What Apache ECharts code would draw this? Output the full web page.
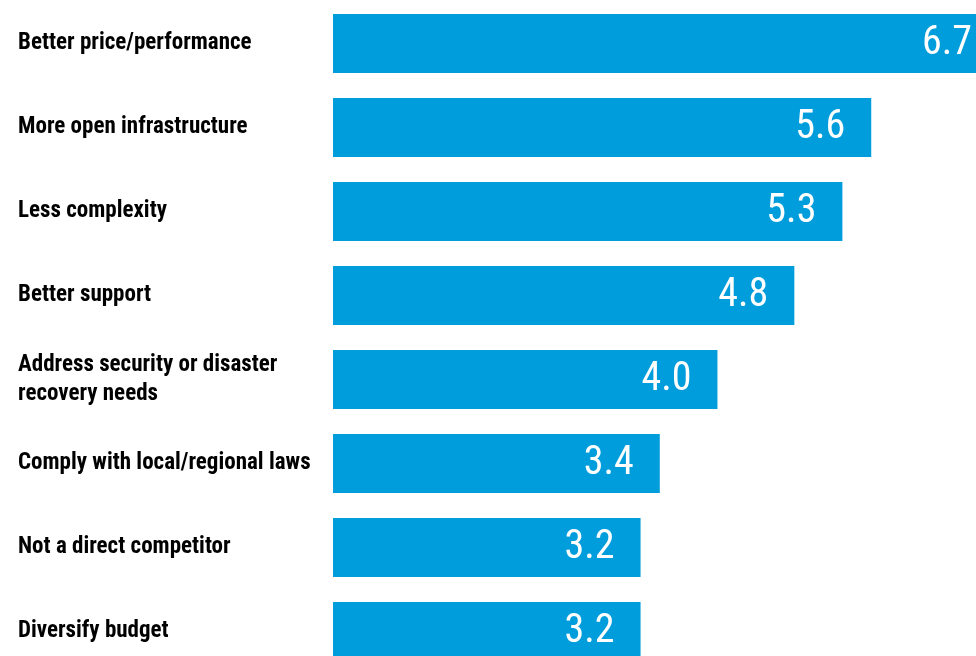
<!DOCTYPE html>
<html>
<head>
<meta charset="utf-8">
<script src="https://cdn.jsdelivr.net/npm/echarts@6/dist/echarts.min.js"></script>
<style>
html,body{margin:0;padding:0;background:#fff;}
#chart{width:976px;height:656px;}
</style>
</head>
<body>
<div id="chart"></div>
<script>
var categories = [
  "Better price/performance",
  "More open infrastructure",
  "Less complexity",
  "Better support",
  "Address security or disaster\nrecovery needs",
  "Comply with local/regional laws",
  "Not a direct competitor",
  "Diversify budget"
];
var values = [6.7, 5.6, 5.3, 4.8, 4.0, 3.4, 3.2, 3.2];

var FONT = '"Roboto Condensed", "DejaVu Sans Condensed", sans-serif';

var chart = echarts.init(document.getElementById('chart'), null, {renderer: 'canvas'});
var seriesData = values.map(function (v, i) {
  var item = {value: v};
  if (i === 0) { item.label = {distance: 4}; }
  return item;
});
var catData = categories.map(function (c) {
  var item = {value: c};
  if (c.indexOf('\n') >= 0) {
    item.textStyle = {align: 'left', padding: [12, 0, 0, 0]};
  }
  return item;
});
chart.setOption({
  animation: false,
  backgroundColor: '#ffffff',
  grid: {left: 333, top: 1.5, height: 672, right: 0, containLabel: false, outerBoundsMode: 'none'},
  xAxis: {
    type: 'value', min: 0, max: 6.69,
    show: false
  },
  yAxis: {
    type: 'category', data: catData, inverse: true,
    axisLine: {show: false}, axisTick: {show: false}, splitLine: {show: false},
    axisLabel: {
      align: 'left', margin: 315,
      fontFamily: FONT, fontWeight: 'bold', fontSize: 23, color: '#000',
      lineHeight: 29
    }
  },
  series: [{
    type: 'bar',
    data: seriesData,
    barWidth: 59,
    itemStyle: {color: '#009DDC'},
    label: {
      show: true, position: 'insideRight', distance: 26,
      color: '#fff', fontFamily: FONT, fontSize: 40, fontWeight: 'normal',
      formatter: function (p) { return p.value.toFixed(1); }
    }
  }]
});
</script>
</body>
</html>
